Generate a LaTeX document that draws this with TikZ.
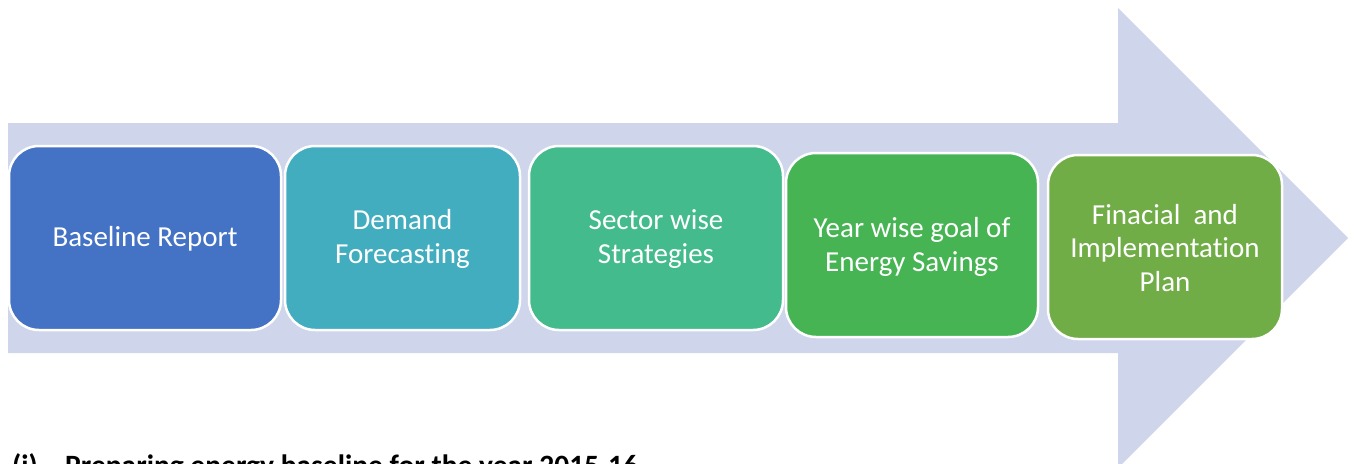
\documentclass[tikz,border=0pt]{standalone}
\usepackage{fontspec}
\setmainfont{Carlito}[Ligatures={NoCommon}]
\definecolor{arrowc}{HTML}{CFD5EA}
\definecolor{c1}{HTML}{4472C4}
\definecolor{c2}{HTML}{43ADC0}
\definecolor{c3}{HTML}{44BB8C}
\definecolor{c4}{HTML}{47B454}
\definecolor{c5}{HTML}{70AD47}
\begin{document}
\begin{tikzpicture}[x=1pt,y=-1pt,
  stage/.style={draw=white, line width=2.5pt, rounded corners=30pt, text=white,
    align=center, font=\fontsize{29}{33.5}\selectfont},
  caption/.style={anchor=base west, inner sep=0pt, font=\fontsize{29.5}{35}\selectfont\bfseries}]
\useasboundingbox (0,0) rectangle (1354,463);
\fill[arrowc] (8,123) -- (1118,123) -- (1118,8) -- (1348,238) -- (1118,468) -- (1118,353) -- (8,353) -- cycle;
\draw[stage, fill=c1] (9,146) rectangle (281,330);
\draw[stage, fill=c2] (285,146) rectangle (520,330);
\draw[stage, fill=c3] (529,146) rectangle (783,330);
\draw[stage, fill=c4] (786,153) rectangle (1038,337);
\draw[stage, fill=c5] (1048,155) rectangle (1282,339);
\node[stage, draw=none] (t1) at (145,239) {Baseline Report};
\node[stage, draw=none] (t2) at (402.5,239) {Demand\\Forecasting};
\node[stage, draw=none] (t3) at (656,239) {Sector wise\\Strategies};
\node[stage, draw=none] (t4) at (912,247) {Year wise goal of\\Energy Savings};
\node[stage, draw=none] (t5) at (1165,248) {Finacial~ and\\Implementation\\Plan};
\node[caption] (n1) at (12,475) {(i)};
\node[caption] (n2) at (65,475) {Preparing energy baseline for the year 2015-16};
\end{tikzpicture}
\end{document}
